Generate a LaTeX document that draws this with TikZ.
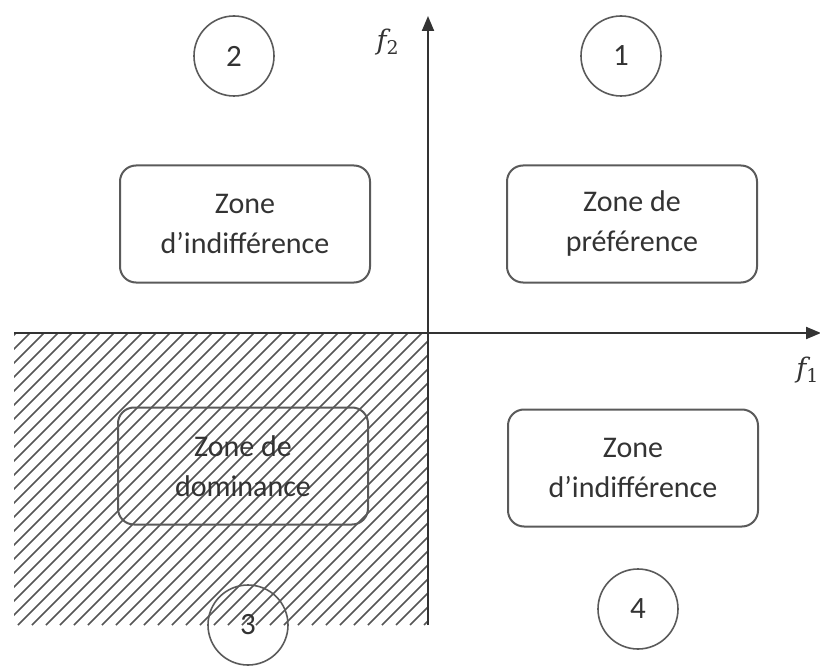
\documentclass[tikz,border=0pt]{standalone}
\usepackage{fontspec}
\setmainfont{Carlito}
\newfontfamily\axisfont{DejaVu Serif}
\usetikzlibrary{arrows.meta}
\definecolor{boxgray}{HTML}{5A5A5A}
\definecolor{txtgray}{HTML}{333333}
\definecolor{hatchgray}{HTML}{555555}

\begin{document}
\begin{tikzpicture}[x=1pt, y=-1pt,
    zonebox/.style={draw=boxgray, line width=2pt, rounded corners=16pt, minimum width=250pt,
      minimum height=117pt, align=center, text=txtgray, font=\fontsize{30}{40}\selectfont},
    numcircle/.style={circle, draw=boxgray, line width=1.6pt, minimum size=80pt, inner sep=0pt,
      text=txtgray, font=\fontsize{31}{36}\selectfont},
    axis/.style={draw=txtgray, line width=2pt, -{Triangle[length=15pt,width=12pt]}},
    axlabel/.style={text=txtgray, inner sep=1pt, font=\axisfont\itshape\fontsize{27}{30}\selectfont},
    hatch/.style={draw=hatchgray, line width=1.5pt}]
    \useasboundingbox (0,0) rectangle (820,666);
    % axes ends
    \coordinate (O) at (428,333);
    \coordinate (xstart) at (14,333);
    \coordinate (xend) at (821,333);
    \coordinate (ytop) at (428,16);
    \coordinate (ybot) at (428,625);
    % hatched quadrant
    \begin{scope}
      \clip (xstart) rectangle (ybot);
      \foreach \i in {-290,-276,...,430} \draw[hatch] (\i,625) -- ++(300,-300);
    \end{scope}
    \draw[axis] (xstart) -- (xend);
    \draw[axis] (ybot) -- (ytop);
    \node[axlabel] (f2) at (388,42) {f\textsubscript{\upshape 2}};
    \node[axlabel, anchor=east] (f1) at (820,370) {f\textsubscript{\upshape 1}};
    % zones
    \node[zonebox] (indiffA) at (245,224) {Zone\\d’indifférence};
    \node[zonebox] (pref) at (632,224) {Zone de\\préférence};
    \node[zonebox] (domin) at (243,466) {Zone de\\dominance};
    \node[zonebox] (indiffB) at (633,468) {Zone\\d’indifférence};
    % quadrant numbers
    \node[numcircle] (n1) at (621,56) {1};
    \node[numcircle] (n2) at (234,56) {2};
    \node[numcircle] (n3) at (248,625) {3};
    \node[numcircle] (n4) at (638,609) {4};
\end{tikzpicture}
\end{document}
